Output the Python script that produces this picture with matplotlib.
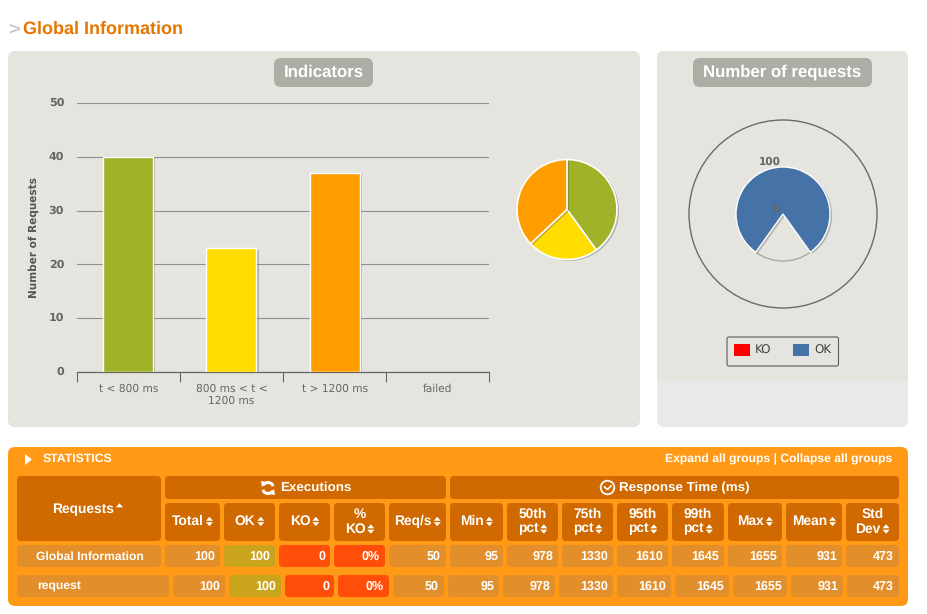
import matplotlib
matplotlib.use("Agg")
import matplotlib.pyplot as plt
import matplotlib.patheffects as pe
from matplotlib.patches import FancyBboxPatch, Circle, Rectangle, Polygon, Arc

plt.rcParams["text.hinting"] = "none"
W, H = 928, 614
SANS = "Liberation Sans"
CHART = "DejaVu Sans"

# ---- data ----
categories = ["t < 800 ms", "800 ms < t <\n1200 ms", "t > 1200 ms", "failed"]
counts = [40, 23, 37, 0]
bar_colors = ["#A0B228", "#FFDD00", "#FF9D00", "#FF0000"]
yticks = [0, 10, 20, 30, 40, 50]
ok_count = 100
ko_count = 0
gauge_gap = 24.6  # empty part of the round gauge, in request units

group_headers = ["Executions", "Response Time (ms)"]
col_headers = ["Total", "OK", "KO", "%\nKO", "Req/s", "Min", "50th\npct", "75th\npct",
               "95th\npct", "99th\npct", "Max", "Mean", "Std\nDev"]
row_names = ["Global Information", "request"]
row_values = ["100", "100", "0", "0%", "50", "95", "978", "1330", "1610", "1645", "1655", "931", "473"]

head_x = [(165, 220), (224, 275), (279, 330), (334, 385), (389, 446), (450, 503), (507, 558),
          (562, 613), (617, 668), (672, 724), (728, 782), (786, 842), (846, 899)]
row2_x = [(173, 225), (229, 281), (285, 334), (338, 389), (393, 444), (448, 499), (503, 555),
          (559, 613), (617, 671), (675, 729), (733, 787), (791, 843), (847, 899)]

PANEL = "#E5E4DF"
PILL = "#ADACA5"
ORANGE = "#FF9916"
HEAD = "#CF6900"
CELL = "#E28E2A"
OKC = "#C9A41C"
KOC = "#FF4E0A"

fig = plt.figure(figsize=(W / 100, H / 100), dpi=100, facecolor="white")


def px_axes(x0, y0, x1, y1, z=2):
    a = fig.add_axes([x0 / W, 1 - y1 / H, (x1 - x0) / W, (y1 - y0) / H], zorder=z)
    a.patch.set_alpha(0)
    return a


bg = fig.add_axes([0, 0, 1, 1], zorder=1)
bg.set_xlim(0, W)
bg.set_ylim(H, 0)
bg.axis("off")


def box(x0, y0, x1, y1, color, r=4, **kw):
    p = FancyBboxPatch((x0 + r, y0 + r), x1 - x0 - 2 * r, y1 - y0 - 2 * r,
                       boxstyle=f"round,pad={r},rounding_size={r}",
                       fc=color, ec="none", lw=0, **kw)
    bg.add_patch(p)
    return p


def label(x, y, s, size=9.4, color="white", ha="center", va="center", weight="bold", family=SANS, **kw):
    return bg.text(x, y, s, fontsize=size, color=color, ha=ha, va=va, fontweight=weight,
                   family=family, **kw)


def sort_arrows(x, y, up=True, down=True):
    if up:
        bg.add_patch(Polygon([(x - 3.5, y - 0.7), (x + 3.5, y - 0.7), (x, y - 4.7)], fc="white", ec="none"))
    if down:
        bg.add_patch(Polygon([(x - 3.5, y + 0.7), (x + 3.5, y + 0.7), (x, y + 4.7)], fc="white", ec="none"))


def header_with_arrows(cx, y, s):
    t = label(cx - 4.5, y + 3.5, s, size=9.9, va="baseline")
    r = t.get_window_extent(fig.canvas.get_renderer())
    sort_arrows(r.x1 + 5.5, y)


# ---- page title ----
label(7, 29, ">", size=12, color="#C8C8C4", ha="left", family=CHART)
label(23, 29, "Global Information", size=13, color="#E87500", ha="left")

# ---- panels ----
box(8, 51, 640, 427, PANEL, r=7)
box(657, 51, 908, 427, "#E9E9E9", r=7)
box(657, 51, 908, 381, PANEL, r=7)
bg.add_patch(Rectangle((657, 370), 251, 11, fc=PANEL, ec="none"))
box(274, 58, 373, 87, PILL, r=7)
box(693, 58, 872, 87, PILL, r=7)
label(323.5, 72.5, "Indicators", size=12.1)
label(782.5, 72.5, "Number of requests", size=12.1)

# ---- bar chart ----
ax = px_axes(76.7, 103, 489.3, 372)
shadow = [pe.withSimplePatchShadow(offset=(1.5, -1), shadow_rgbFace="#555555", alpha=0.35)]
bars = ax.bar(range(4), counts, width=0.485, color=bar_colors, edgecolor="white", linewidth=1, zorder=3)
for b, v in zip(bars, counts):
    if v:
        b.set_path_effects(shadow)
    else:
        b.set_visible(False)
ax.set_xlim(-0.5, 3.5)
ax.set_ylim(0, 50)
ax.set_yticks(yticks)
ax.set_yticklabels([str(v) for v in yticks], fontsize=8, fontweight="bold", color="#666666",
                   family=CHART, va="center")
ax.tick_params(axis="y", length=0, pad=9)
ax.grid(axis="y", color="#8F8F8C", lw=0.8, zorder=1)
ax.set_xticks([-0.5, 0.5, 1.5, 2.5, 3.5])
ax.set_xticklabels([])
ax.set_xticks(range(4), minor=True)
ax.set_xticklabels(categories, minor=True, fontsize=7.7, color="#666666", family=CHART, linespacing=1.25)
ax.tick_params(axis="x", which="major", length=7, width=0.8, color="#666666")
ax.tick_params(axis="x", which="minor", length=0, pad=8)
for s in ["top", "left", "right"]:
    ax.spines[s].set_visible(False)
ax.spines["bottom"].set_color("#666666")
ax.spines["bottom"].set_linewidth(0.9)
label(34, 238, "Number of Requests", size=7.6, color="#555555", rotation=90, family=CHART)

# ---- small pie ----
pie_ax = px_axes(517, 159.5, 617, 259.5)
w1, _ = pie_ax.pie(counts[:3], colors=bar_colors[:3], startangle=90, counterclock=False, radius=1,
                   wedgeprops=dict(edgecolor="white", linewidth=1.2))
for w in w1:
    w.set_path_effects(shadow)
    w.set_clip_on(False)
pie_ax.set_xlim(-1, 1)
pie_ax.set_ylim(-1, 1)

# ---- round gauge ----
g_ax = px_axes(689, 120, 877, 308)
g_ax.add_patch(Circle((0, 0), 2, fc="none", ec="#6B6B6B", lw=1.0, clip_on=False))
half = 360 * gauge_gap / (ok_count + ko_count + gauge_gap) / 2
g_ax.add_patch(Arc((0, 0), 2, 2, theta1=270 - half, theta2=270 + half, color="#A8A8A4", lw=1))
w2, _ = g_ax.pie([ok_count, gauge_gap], colors=["#4572A7", "none"], radius=1, startangle=270 + half,
                 wedgeprops=dict(linewidth=0))
w2[0].set_edgecolor("white")
w2[0].set_linewidth(1)
w2[0].set_path_effects(shadow)
w2[0].set_clip_on(False)
g_ax.set_xlim(-2, 2)
g_ax.set_ylim(-2, 2)
g_ax.set_aspect("equal")
g_ax.axis("off")
g_txt = fig.add_axes([0, 0, 1, 1], zorder=3)
g_txt.set_xlim(0, W)
g_txt.set_ylim(H, 0)
g_txt.axis("off")
g_txt.text(769.5, 162, str(ok_count), fontsize=7.6, fontweight="bold", color="#666666", ha="center", va="center", family=CHART)
g_txt.text(776, 209, str(ko_count), fontsize=7.6, fontweight="bold", color="#666666", ha="center", va="center", family=CHART)

# legend
lg = FancyBboxPatch((729, 339), 107.5, 25, boxstyle="round,pad=2,rounding_size=2", fc="none", ec="#5A5A5A", lw=0.8)
bg.add_patch(lg)
bg.add_patch(Rectangle((734, 344), 16, 12, fc="#FF0000", ec="none"))
bg.add_patch(Rectangle((793, 344), 16, 12, fc="#4572A7", ec="none"))
label(755, 350.5, "KO", size=8.6, color="#444444", ha="left", weight="normal", family=CHART)
label(814, 350.5, "OK", size=8.6, color="#444444", ha="left", weight="normal", family=CHART)

# ---- statistics table ----
box(8, 447, 908, 606, ORANGE, r=7)
bg.add_patch(Polygon([(25, 454), (25, 465), (32, 459.5)], fc="white", ec="none"))
label(43, 459, "STATISTICS", size=8.8, ha="left")
label(892, 459, "Expand all groups | Collapse all groups", size=8.7, ha="right")

box(17, 476, 161, 541, HEAD)
label(83.5, 509, "Requests", size=9.9)
sort_arrows(119.5, 508, up=True, down=False)
box(165, 476, 446, 499, HEAD)
box(450, 476, 899, 499, HEAD)
label(315.5, 488, group_headers[0], size=9.6)
label(684.5, 488, group_headers[1], size=9.6)
for th0, th1 in [(30, 160), (210, 340)]:
    bg.add_patch(Arc((268, 488), 11, 11, theta1=th0, theta2=th1, color="white", lw=2.2))
bg.add_patch(Polygon([(261, 481), (267, 482), (262, 487)], fc="white", ec="none"))
bg.add_patch(Polygon([(275, 495), (269, 494), (274, 489)], fc="white", ec="none"))
bg.add_patch(Circle((607.5, 487.5), 6.8, fc="none", ec="white", lw=1.3))
bg.plot([604.5, 607.5, 611], [487, 489.5, 486], color="white", lw=1.2)

for (x0, x1), name in zip(head_x, col_headers):
    box(x0, 503, x1, 541, HEAD)
    cx = (x0 + x1) / 2
    parts = name.split("\n")
    if len(parts) == 1:
        header_with_arrows(cx, 521.5, name)
    else:
        label(cx, 517.5, parts[0], size=9.9, va="baseline")
        header_with_arrows(cx, 529, parts[1])

for (y0, y1, name_box, xs, nm, nx, nha) in [(545, 567, (17, 161), head_x, row_names[0], 90, "center"),
                                             (575, 597, (17, 169), row2_x, row_names[1], 37, "left")]:
    box(name_box[0], y0, name_box[1], y1, CELL)
    label(nx, (y0 + y1) / 2 + 3.5, nm, size=8.7, ha=nha, va="baseline")
    for i, ((x0, x1), v) in enumerate(zip(xs, row_values)):
        c = OKC if i == 1 else KOC if i in (2, 3) else CELL
        box(x0, y0, x1, y1, c)
        label(x1 - 5, (y0 + y1) / 2 + 4, v, size=9.0, ha="right", va="baseline")

fig.savefig("out.png", dpi=100, facecolor="white")
